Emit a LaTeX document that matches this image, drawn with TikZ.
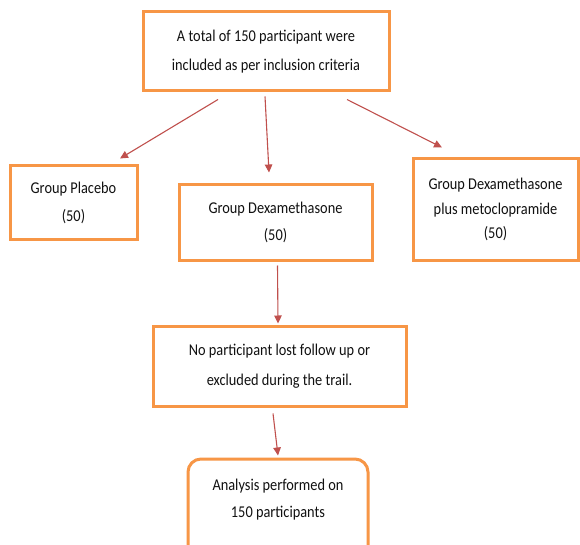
\documentclass[tikz,border=0pt]{standalone}
\usepackage{fontspec}
\setmainfont[FakeStretch=0.87]{Carlito}
\usetikzlibrary{arrows.meta}
\definecolor{boxorange}{HTML}{F79646}
\definecolor{arrred}{HTML}{C0504D}
\definecolor{txt}{HTML}{111111}
\tikzset{
  flowbox/.style={draw=boxorange, line width=3pt, fill=white, inner sep=0pt, align=center,
    text=txt, font={\fontsize{16.5}{27}\selectfont}},
  flowarrow/.style={draw=arrred, line width=1.1pt, -{Triangle[length=8pt,width=7.5pt]}},
}
\begin{document}
\begin{tikzpicture}[x=1pt,y=1pt]
\useasboundingbox (0,0) rectangle (580,544);
\fill[white] (0,0) rectangle (580,544);
\node[flowbox, minimum width=246pt, minimum height=79pt, font={\fontsize{16.5}{29}\selectfont}]
  (top) at (266,492.5) {A total of 150 participant were\\included as per inclusion criteria};
\node[flowbox, minimum width=127pt, minimum height=74pt, font={\fontsize{16.5}{28}\selectfont}]
  (placebo) at (73.5,341) {Group Placebo\\(50)};
\node[flowbox, minimum width=193pt, minimum height=75pt]
  (dexa) at (275.5,321.5) {Group Dexamethasone\\(50)};
\node[flowbox, minimum width=165pt, minimum height=101pt, font={\fontsize{16.5}{24.5}\selectfont}]
  (dexameto) at (495.5,334.5) {Group Dexamethasone\\plus metoclopramide\\(50)};
\node[flowbox, minimum width=253pt, minimum height=80pt, font={\fontsize{16.5}{30}\selectfont}]
  (none) at (279.5,178) {No participant lost follow up or\\excluded during the trail.};
\node[flowbox, rounded corners=13pt, minimum width=180pt, minimum height=105pt]
  (analysis) at (278,32.5) {};
\node[align=center, inner sep=0pt, text=txt, font={\fontsize{16.5}{27}\selectfont}]
  (analysistext) at (278,44.5) {Analysis performed on\\150 participants};
\draw[flowarrow] ([xshift=-48pt,yshift=-7pt]top.south) -- ([xshift=46.5pt,yshift=6pt]placebo.north);
\draw[flowarrow] ([xshift=-1pt,yshift=-4pt]top.south) -- ([xshift=-6.5pt,yshift=11pt]dexa.north);
\draw[flowarrow] ([xshift=81pt,yshift=-7pt]top.south) -- ([xshift=-53.5pt,yshift=10pt]dexameto.north);
\draw[flowarrow] ([xshift=2pt,yshift=-4pt]dexa.south) -- ([xshift=-1.5pt,yshift=1pt]none.north);
\draw[flowarrow] ([xshift=-6.5pt,yshift=-6pt]none.south) -- ([xshift=0pt,yshift=2pt]analysis.north);
\end{tikzpicture}
\end{document}
